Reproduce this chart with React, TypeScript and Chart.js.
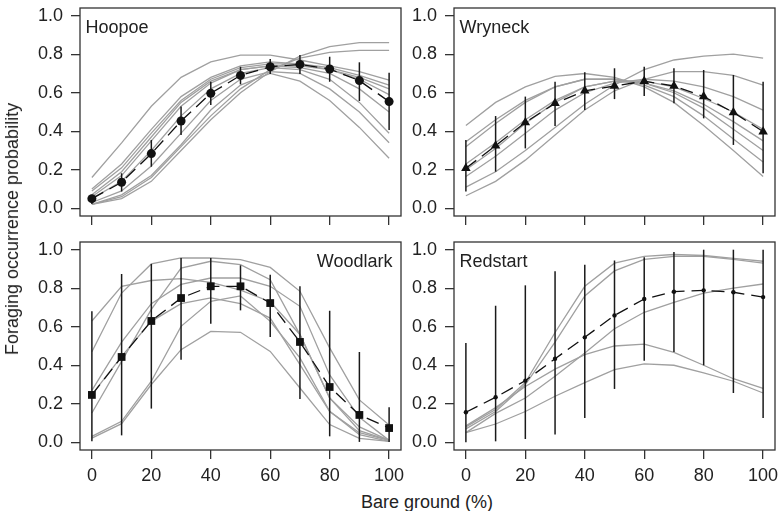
import React, { useEffect, useRef } from 'react';
import { Chart, registerables } from 'chart.js';

Chart.register(...registerables);

// ---------- data ----------
const bareGround = [0, 10, 20, 30, 40, 50, 60, 70, 80, 90, 100];
const xTickValues = [0, 20, 40, 60, 80, 100];
const yTickValues = [0, 0.2, 0.4, 0.6, 0.8, 1.0];

const speciesNames = ['Hoopoe', 'Wryneck', 'Woodlark', 'Redstart'];
const xAxisTitle = 'Bare ground (%)';
const yAxisTitle = 'Foraging occurrence probability';

const hoopoeMean = [0.05, 0.135, 0.284, 0.453, 0.597, 0.69, 0.735, 0.747, 0.723, 0.663, 0.554];
const hoopoeLow = [0.022, 0.087, 0.216, 0.38, 0.536, 0.644, 0.697, 0.697, 0.657, 0.557, 0.407];
const hoopoeHigh = [0.07, 0.182, 0.355, 0.528, 0.657, 0.735, 0.775, 0.796, 0.787, 0.758, 0.704];
const hoopoeCurves = [
  [0.16, 0.34, 0.53, 0.68, 0.76, 0.795, 0.795, 0.77, 0.74, 0.71, 0.665],
  [0.10, 0.23, 0.41, 0.58, 0.68, 0.74, 0.76, 0.75, 0.73, 0.69, 0.64],
  [0.09, 0.21, 0.39, 0.56, 0.67, 0.73, 0.75, 0.75, 0.72, 0.68, 0.62],
  [0.07, 0.19, 0.37, 0.55, 0.66, 0.72, 0.74, 0.74, 0.72, 0.67, 0.59],
  [0.06, 0.17, 0.35, 0.53, 0.65, 0.72, 0.74, 0.73, 0.70, 0.62, 0.50],
  [0.05, 0.14, 0.30, 0.48, 0.62, 0.70, 0.73, 0.72, 0.67, 0.55, 0.39],
  [0.03, 0.09, 0.22, 0.39, 0.56, 0.67, 0.71, 0.70, 0.62, 0.50, 0.34],
  [0.02, 0.07, 0.17, 0.33, 0.51, 0.64, 0.70, 0.66, 0.56, 0.42, 0.26],
  [0.02, 0.05, 0.14, 0.30, 0.46, 0.60, 0.71, 0.79, 0.84, 0.86, 0.86],
  [0.02, 0.06, 0.16, 0.32, 0.48, 0.62, 0.72, 0.78, 0.81, 0.82, 0.82],
];

const wryneckMean = [0.208, 0.325, 0.446, 0.545, 0.61, 0.635, 0.66, 0.635, 0.58, 0.498, 0.398];
const wryneckLow = [0.087, 0.19, 0.311, 0.427, 0.51, 0.567, 0.583, 0.545, 0.467, 0.329, 0.182];
const wryneckHigh = [0.355, 0.479, 0.58, 0.657, 0.706, 0.727, 0.735, 0.727, 0.718, 0.692, 0.657];
const wryneckCurves = [
  [0.43, 0.55, 0.63, 0.685, 0.70, 0.68, 0.63, 0.55, 0.43, 0.30, 0.165],
  [0.345, 0.46, 0.56, 0.63, 0.67, 0.67, 0.64, 0.58, 0.48, 0.36, 0.24],
  [0.32, 0.44, 0.55, 0.63, 0.67, 0.67, 0.65, 0.60, 0.52, 0.41, 0.30],
  [0.23, 0.34, 0.46, 0.56, 0.63, 0.66, 0.66, 0.63, 0.57, 0.50, 0.41],
  [0.20, 0.31, 0.44, 0.55, 0.63, 0.66, 0.65, 0.61, 0.54, 0.45, 0.35],
  [0.165, 0.27, 0.39, 0.51, 0.60, 0.65, 0.67, 0.66, 0.63, 0.58, 0.51],
  [0.11, 0.19, 0.30, 0.42, 0.54, 0.64, 0.72, 0.77, 0.79, 0.80, 0.78],
  [0.065, 0.14, 0.25, 0.38, 0.51, 0.61, 0.67, 0.71, 0.71, 0.69, 0.64],
];

const woodlarkMean = [0.246, 0.443, 0.63, 0.749, 0.81, 0.81, 0.723, 0.521, 0.287, 0.142, 0.074];
const woodlarkLow = [0.005, 0.036, 0.175, 0.429, 0.616, 0.685, 0.547, 0.225, 0.031, 0.002, 0.002];
const woodlarkHigh = [0.68, 0.874, 0.926, 0.957, 0.957, 0.919, 0.87, 0.81, 0.683, 0.469, 0.182];
const woodlarkCurves = [
  [0.63, 0.81, 0.84, 0.85, 0.83, 0.79, 0.73, 0.56, 0.23, 0.08, 0.01],
  [0.47, 0.775, 0.926, 0.957, 0.957, 0.948, 0.908, 0.784, 0.49, 0.22, 0.09],
  [0.27, 0.52, 0.72, 0.82, 0.853, 0.853, 0.81, 0.706, 0.35, 0.13, 0.01],
  [0.247, 0.446, 0.628, 0.72, 0.75, 0.72, 0.645, 0.403, 0.16, 0.05, 0.01],
  [0.152, 0.42, 0.69, 0.905, 0.94, 0.922, 0.844, 0.559, 0.23, 0.06, 0.01],
  [0.031, 0.109, 0.317, 0.602, 0.732, 0.76, 0.628, 0.438, 0.161, 0.04, 0.005],
  [0.022, 0.097, 0.30, 0.481, 0.576, 0.571, 0.472, 0.282, 0.092, 0.02, 0.005],
];

const redstartMean = [0.156, 0.234, 0.32, 0.434, 0.545, 0.659, 0.744, 0.782, 0.789, 0.779, 0.754];
const redstartLow = [0.0, 0.005, 0.017, 0.04, 0.126, 0.277, 0.424, 0.469, 0.40, 0.256, 0.126];
const redstartHigh = [0.516, 0.709, 0.815, 0.888, 0.922, 0.944, 0.961, 0.988, 1.0, 1.0, 1.0];
const redstartCurves = [
  [0.08, 0.17, 0.31, 0.57, 0.81, 0.93, 0.965, 0.975, 0.97, 0.955, 0.94],
  [0.07, 0.16, 0.30, 0.52, 0.76, 0.89, 0.95, 0.965, 0.965, 0.95, 0.93],
  [0.05, 0.15, 0.23, 0.343, 0.464, 0.59, 0.675, 0.727, 0.775, 0.80, 0.822],
  [0.085, 0.18, 0.29, 0.38, 0.455, 0.50, 0.51, 0.467, 0.40, 0.33, 0.28],
  [0.05, 0.095, 0.16, 0.239, 0.31, 0.377, 0.407, 0.40, 0.36, 0.317, 0.256],
];

// ---------- styling ----------
const FONT = '"Liberation Sans", Arial, Helvetica, sans-serif';
const TEXT = '#222';
const GRAY = '#a0a0a0';
const BLACK = '#111';

Chart.defaults.font.family = FONT;
Chart.defaults.font.size = 18;
Chart.defaults.color = TEXT;

const panelBoxPlugin = {
  id: 'panelBox',
  afterDatasetsDraw(chart: any, _args: any, opts: any) {
    const { ctx, chartArea } = chart;
    const { left, top, right, bottom } = chartArea;
    ctx.save();
    ctx.strokeStyle = '#333';
    ctx.lineWidth = 1.3;
    ctx.strokeRect(left, top, right - left, bottom - top);
    ctx.fillStyle = TEXT;
    ctx.font = '18px ' + FONT;
    ctx.textBaseline = 'alphabetic';
    ctx.textAlign = opts.align === 'right' ? 'right' : 'left';
    const x = opts.align === 'right' ? right - 8.5 : left + 5.5;
    ctx.fillText(opts.title, x, top + 25);
    ctx.restore();
  },
};

type Spec = {
  title: string;
  align: 'left' | 'right';
  mean: number[];
  low: number[];
  high: number[];
  curves: number[][];
  marker: string;
  radius: number;
};

const specs: Spec[] = [
  { title: speciesNames[0], align: 'left', mean: hoopoeMean, low: hoopoeLow, high: hoopoeHigh, curves: hoopoeCurves, marker: 'circle', radius: 4.5 },
  { title: speciesNames[1], align: 'left', mean: wryneckMean, low: wryneckLow, high: wryneckHigh, curves: wryneckCurves, marker: 'triangle', radius: 5.5 },
  { title: speciesNames[2], align: 'right', mean: woodlarkMean, low: woodlarkLow, high: woodlarkHigh, curves: woodlarkCurves, marker: 'rect', radius: 5.5 },
  { title: speciesNames[3], align: 'left', mean: redstartMean, low: redstartLow, high: redstartHigh, curves: redstartCurves, marker: 'circle', radius: 2.2 },
];

type PanelProps = {
  spec: Spec;
  left: number;
  top: number;
  width: number;
  height: number;
  yAxisWidth: number;
  xAxisHeight: number;
  showXLabels: boolean;
};

const zeroPadding = (s: any) => {
  s.paddingTop = 0;
  s.paddingBottom = 0;
  s.paddingLeft = 0;
  s.paddingRight = 0;
};

function Panel({ spec, left, top, width, height, yAxisWidth, xAxisHeight, showXLabels }: PanelProps) {
  const ref = useRef<HTMLCanvasElement | null>(null);
  useEffect(() => {
    if (!ref.current) return;
    const datasets: any[] = [];
    datasets.push({
      data: spec.mean.map((y, i) => ({ x: bareGround[i], y })),
      borderColor: BLACK,
      borderWidth: 1.3,
      borderDash: [13, 7],
      pointStyle: spec.marker,
      pointRadius: spec.radius,
      pointBackgroundColor: BLACK,
      pointBorderColor: BLACK,
      pointBorderWidth: 0,
      order: 0,
    });
    bareGround.forEach((x, i) => {
      datasets.push({
        data: [
          { x, y: spec.low[i] },
          { x, y: spec.high[i] },
        ],
        borderColor: '#1a1a1a',
        borderWidth: 1.5,
        pointRadius: 0,
        order: 1,
      });
    });
    spec.curves.forEach((c) => {
      datasets.push({
        data: c.map((y, i) => ({ x: bareGround[i], y })),
        borderColor: GRAY,
        borderWidth: 1.3,
        pointRadius: 0,
        order: 2,
      });
    });

    const gridOpts = {
      display: true,
      drawOnChartArea: false,
      drawTicks: true,
      tickLength: 9,
      color: '#333',
      lineWidth: 1.3,
    };

    const chart = new Chart(ref.current, {
      type: 'line',
      data: { datasets },
      options: {
        responsive: false,
        animation: false,
        events: [],
        devicePixelRatio: 1,
        layout: { padding: { top: 8, right: 10, left: 0, bottom: 0 } },
        plugins: {
          legend: { display: false },
          tooltip: { enabled: false },
          panelBox: { title: spec.title, align: spec.align },
        } as any,
        scales: {
          x: {
            type: 'linear',
            min: -4,
            max: 104,
            afterBuildTicks: (s: any) => {
              s.ticks = xTickValues.map((v) => ({ value: v }));
            },
            afterFit: (s: any) => {
              s.height = xAxisHeight;
              zeroPadding(s);
            },
            ticks: {
              autoSkip: false,
              maxRotation: 0,
              padding: 6,
              color: TEXT,
              font: { size: 18, family: FONT },
              callback: (v: any) => (showXLabels ? String(v) : ''),
            },
            grid: gridOpts,
            border: { display: false },
          },
          y: {
            type: 'linear',
            min: -0.04,
            max: 1.04,
            afterBuildTicks: (s: any) => {
              s.ticks = yTickValues.map((v) => ({ value: v }));
            },
            afterFit: (s: any) => {
              s.width = yAxisWidth;
              zeroPadding(s);
            },
            ticks: {
              autoSkip: false,
              padding: 8,
              color: TEXT,
              font: { size: 18, family: FONT },
              callback: (v: any) => Number(v).toFixed(1),
            },
            grid: gridOpts,
            border: { display: false },
          },
        },
      } as any,
      plugins: [panelBoxPlugin],
    });
    return () => chart.destroy();
  }, []);
  return (
    <canvas
      ref={ref}
      width={width}
      height={height}
      style={{ position: 'absolute', left, top, width, height }}
    />
  );
}

export default function App() {
  return (
    <div
      style={{
        position: 'absolute',
        left: 0,
        top: 0,
        width: 778,
        height: 511,
        overflow: 'hidden',
        background: '#fff',
        fontFamily: FONT,
        color: TEXT,
      }}
    >
      <Panel spec={specs[0]} left={20} top={0} width={391} height={232} yAxisWidth={60} xAxisHeight={16} showXLabels={false} />
      <Panel spec={specs[1]} left={394} top={0} width={391} height={232} yAxisWidth={60} xAxisHeight={16} showXLabels={false} />
      <Panel spec={specs[2]} left={20} top={234} width={391} height={250} yAxisWidth={60} xAxisHeight={34} showXLabels={true} />
      <Panel spec={specs[3]} left={394} top={234} width={391} height={250} yAxisWidth={60} xAxisHeight={34} showXLabels={true} />
      <div
        style={{
          position: 'absolute',
          left: 427,
          top: 493,
          transform: 'translateX(-50%)',
          fontSize: 18,
          lineHeight: '18px',
          whiteSpace: 'nowrap',
        }}
      >
        {xAxisTitle}
      </div>
      <div
        style={{
          position: 'absolute',
          left: 12,
          top: 229,
          transform: 'translate(-50%, -50%) rotate(-90deg)',
          fontSize: 18,
          lineHeight: '20px',
          whiteSpace: 'nowrap',
        }}
      >
        {yAxisTitle}
      </div>
    </div>
  );
}
